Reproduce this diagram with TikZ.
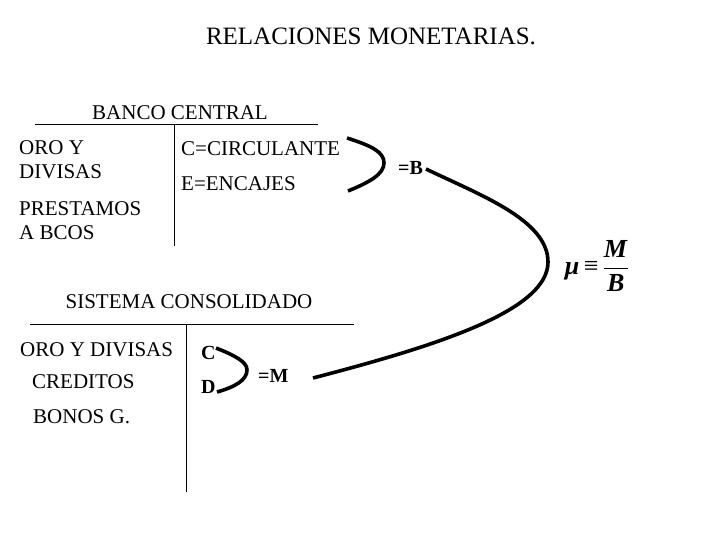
\documentclass[tikz,border=0pt]{standalone}
\usepackage{amsmath,amssymb}
\usepackage{fontspec}
\setmainfont{Liberation Serif}
\usetikzlibrary{positioning}

\begin{document}
\begin{tikzpicture}[
  x=1pt, y=-1pt,
  txt/.style={inner sep=0pt, anchor=west, font=\rmfamily\fontsize{21}{23}\selectfont},
  head/.style={inner sep=0pt, font=\rmfamily\fontsize{21}{23}\selectfont},
  bold/.style={txt, font=\rmfamily\fontsize{20}{22}\selectfont\bfseries},
  rule/.style={line width=1pt},
  brace/.style={line width=3.6pt},
  link/.style={line width=3.6pt}
]
\useasboundingbox (0,0) rectangle (720,540);

% title
\node[inner sep=0pt, font=\rmfamily\fontsize{25}{28}\selectfont] (title) at (371,36) {RELACIONES MONETARIAS.};

% banco central
\node[head] (bc) at (180,113) {BANCO CENTRAL};
\coordinate (bcL) at (35,125);
\coordinate (bcR) at (318,125);
\coordinate (bcT) at (174,125);
\coordinate (bcB) at (174,246);
\draw[rule] (bcL) -- (bcR);
\draw[rule] (bcT) -- (bcB);
\node[txt] (oro) at (19,148) {ORO Y};
\node[txt] (div) at (19,172) {DIVISAS};
\node[txt] (pre) at (19,209) {PRESTAMOS};
\node[txt] (abc) at (19,233) {A BCOS};
\node[txt] (circ) at (181,149) {C=CIRCULANTE};
\node[txt] (enc) at (181,184) {E=ENCAJES};
\node[bold] (eqB) at (398,168) {=B};
\coordinate (bt) at (347,138);
\coordinate (bap) at (384,163);
\coordinate (bb) at (348,191);
\draw[brace] (bt) .. controls (372,146) and (384,152) .. (bap)
  .. controls (384,174) and (370,182) .. (bb);

% sistema consolidado
\node[head] (sc) at (189,302) {SISTEMA CONSOLIDADO};
\coordinate (scL) at (30,324);
\coordinate (scR) at (354,324);
\coordinate (scT) at (186,324);
\coordinate (scB) at (186,492);
\draw[rule] (scL) -- (scR);
\draw[rule] (scT) -- (scB);
\node[txt] (orodiv) at (20,350) {ORO Y DIVISAS};
\node[txt] (cred) at (32,382) {CREDITOS};
\node[txt] (bon) at (33,417) {BONOS G.};
\node[bold] (cC) at (201,353) {C};
\node[bold] (cD) at (201,387) {D};
\node[bold] (eqM) at (258,376) {=M};
\coordinate (mt) at (216,348);
\coordinate (map) at (247,370);
\coordinate (mb) at (217,392);
\draw[brace] (mt) .. controls (236,356) and (247,362) .. (map)
  .. controls (247,380) and (235,387) .. (mb);

% multiplicador
\node[inner sep=0pt, font=\rmfamily\fontsize{26}{28}\selectfont] (mu) at (597,266)
  {\textbf{\textit{μ}}\,≡\,$\dfrac{\textbf{\textit{M}}}{\textbf{\textit{B}}}$};
\coordinate (lkB) at (426,169);
\coordinate (lkap) at (548,262);
\coordinate (lkM) at (313,378);
\draw[link] (lkB) .. controls (480,195) and (548,220) .. (lkap)
  .. controls (548,310) and (440,345) .. (lkM);
\end{tikzpicture}
\end{document}
